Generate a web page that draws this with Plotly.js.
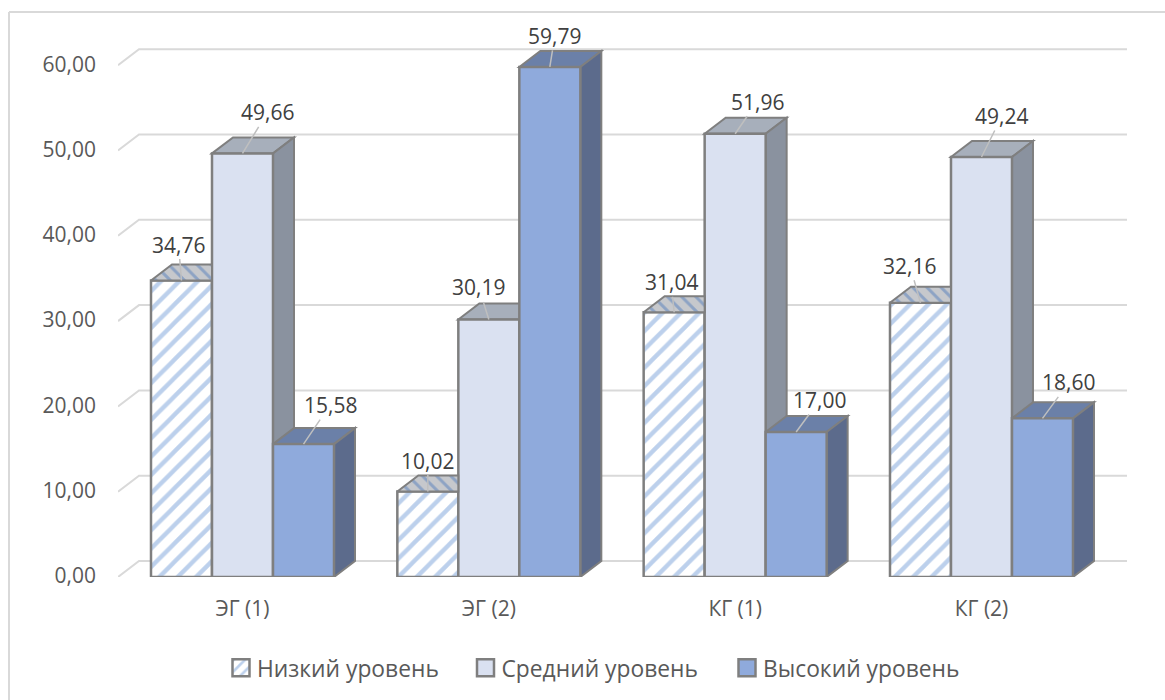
<!DOCTYPE html>
<html><head><meta charset="utf-8">
<script src="https://cdn.plot.ly/plotly-3.0.1.min.js"></script>
<style>html,body{margin:0;padding:0;background:#fff}#c{width:1165px;height:700px}</style>
</head><body><div id="c"></div>
<script>
var categories = ['ЭГ (1)','ЭГ (2)','КГ (1)','КГ (2)'];
var seriesNames = ['Низкий уровень','Средний уровень','Высокий уровень'];
var low  = [34.76,10.02,31.04,32.16];
var mid  = [49.66,30.19,51.96,49.24];
var high = [15.58,59.79,17.00,18.60];
var yTicks = [0,10,20,30,40,50,60];
var yTickLabels = ['0,00','10,00','20,00','30,00','40,00','50,00','60,00'];

var W=1165,H=700,mL=118,mR=35,mT=30,mB=123;
var pxX=246.33, pxY=8.53;
var xRange=[(mL-242.5)/pxX,(W-mR-242.5)/pxX];
var yRange=[0,(H-mT-mB)/pxY];
var barW=61/pxX, depthX=21/pxX, depthY=16/pxY;
var FONT='"Open Sans", sans-serif';
var OUT='#7f7f7f';
var series=[low,mid,high];
var frontCol=['#ffffff','#dae1f1','#8faadc'];
var topCol=['#c6c8cc','#a7afbb','#6b80a8'];
var sideCol=['#8a8f98','#8a929f','#5c6b8c'];
var xs=categories.map(function(_,i){return i;});
function poly(p){return 'M'+p.map(function(q){return q[0]+' '+q[1];}).join(' L')+' Z';}
function barLeft(c,s){return c+(s-1.5)*barW;}

var shapes=[];
function pxPaperX(p){return (p-mL)/(W-mL-mR);}
function pxPaperY(p){return 1-(p-mT)/(H-mT-mB);}
var frame={color:'#d9d9d9',width:2};
shapes.push({type:'line',xref:'paper',yref:'paper',x0:pxPaperX(9),y0:pxPaperY(12),x1:pxPaperX(1165),y1:pxPaperY(12),line:frame,layer:'below'});
shapes.push({type:'line',xref:'paper',yref:'paper',x0:pxPaperX(9),y0:pxPaperY(12),x1:pxPaperX(9),y1:pxPaperY(700),line:frame,layer:'below'});
var gridEnd=xRange[0]+(1127-mL)/pxX;
yTicks.forEach(function(t){
  shapes.push({type:'path',xref:'x',yref:'y',layer:'below',
    path:'M'+xRange[0]+' '+t+' L'+(xRange[0]+depthX)+' '+(t+depthY)+' L'+gridEnd+' '+(t+depthY),
    line:{color:'#d9d9d9',width:2},fillcolor:'rgba(0,0,0,0)'});
});
xs.forEach(function(c){
  series.forEach(function(vals,s){
    var l=barLeft(c,s), r=l+barW, v=vals[c];
    if(s>0){
      shapes.push({type:'path',xref:'x',yref:'y',layer:'below',
        path:poly([[l,v],[l+depthX,v+depthY],[r+depthX,v+depthY],[r,v]]),
        fillcolor:topCol[s],line:{color:OUT,width:2}});
    }
    shapes.push({type:'path',xref:'x',yref:'y',layer:'below',
      path:poly([[r,0],[r+depthX,depthY],[r+depthX,v+depthY],[r,v]]),
      fillcolor:sideCol[s],line:{color:OUT,width:2}});
  });
});

var traces=[];
var patterns=[{shape:'/',bgcolor:'#ffffff',fgcolor:'#bcd0ec',size:13,solidity:0.33,fillmode:'replace'},null,null];
series.forEach(function(vals,s){
  var m={color:frontCol[s],line:{color:OUT,width:2.5}};
  if(patterns[s]) m.pattern=patterns[s];
  traces.push({type:'bar',name:seriesNames[s],x:xs,y:vals,marker:m,hoverinfo:'y'});
});
xs.forEach(function(c){
  var l=barLeft(c,0), r=l+barW, v=low[c];
  var p=[[l,v],[l+depthX,v+depthY],[r,v+depthY],[r,v],[l,v]];
  traces.push({type:'scatter',mode:'lines',x:p.map(function(q){return q[0];}),y:p.map(function(q){return q[1];}),
    fill:'toself',fillcolor:topCol[0],fillpattern:{shape:'\\',bgcolor:'#c6c8cc',fgcolor:'#8da3c4',size:10,solidity:0.3,fillmode:'replace'},
    line:{color:OUT,width:2},showlegend:false,hoverinfo:'skip'});
});

var labelDX=[[-3,0,-3,-10.5],[25,-10,22,20.5],[26.5,5,23.5,26.5]];
var labelDY=[[-36,-31,-30,-37],[-41,-32,-32,-41],[-39,-31,-32,-36]];
var annotations=[];
series.forEach(function(vals,s){
  vals.forEach(function(v,c){
    annotations.push({x:barLeft(c,s)+barW/2,y:v,xref:'x',yref:'y',axref:'pixel',ayref:'pixel',
      ax:labelDX[s][c],ay:labelDY[s][c],text:v.toFixed(2).replace('.',','),showarrow:true,arrowhead:0,
      arrowcolor:'#bfbfbf',arrowwidth:1.5,standoff:0,startstandoff:0,borderpad:0,
      font:{family:FONT,size:21,color:'#404040'}});
  });
});

var layout={
  width:W,height:H,paper_bgcolor:'#fff',plot_bgcolor:'rgba(0,0,0,0)',
  margin:{l:mL,r:mR,t:mT,b:mB,pad:0},
  barmode:'group',bargap:1-3*barW,bargroupgap:0,
  xaxis:{range:xRange,tickmode:'array',tickvals:xs,ticktext:categories,showgrid:false,zeroline:false,showline:false,
    ticks:'',ticklabelstandoff:17,tickfont:{family:FONT,size:21,color:'#595959'}},
  yaxis:{range:yRange,tickmode:'array',tickvals:yTicks,ticktext:yTickLabels,showgrid:false,zeroline:false,showline:false,
    ticks:'',ticklabelstandoff:21,ticklabelshift:-1,tickfont:{family:FONT,size:21,color:'#595959'}},
  legend:{orientation:'h',x:(232-15)/W,y:(700-668)/H,yref:'container',xref:'container',xanchor:'left',yanchor:'middle',
    entrywidthmode:'pixels',entrywidth:208,
    font:{family:FONT,size:22.8,color:'#595959'},traceorder:'normal',bgcolor:'rgba(0,0,0,0)'},
  showlegend:true,shapes:shapes,annotations:annotations
};
Plotly.newPlot('c',traces,layout,{displayModeBar:false,staticPlot:true}).then(function(){
  document.querySelectorAll('.legend g.legendpoints path').forEach(function(p){
    if((p.getAttribute('d')||'').indexOf('M6,6')===0) p.setAttribute('d','M12.5,8.5H-4.5V-8.5H12.5Z');
  });
  var item=document.querySelectorAll('.legend g.traces')[1];
  if(item){
    var t=item.getAttribute('transform')||'';
    item.setAttribute('transform',t+' translate(-8.5,0)');
  }
});
</script></body></html>
